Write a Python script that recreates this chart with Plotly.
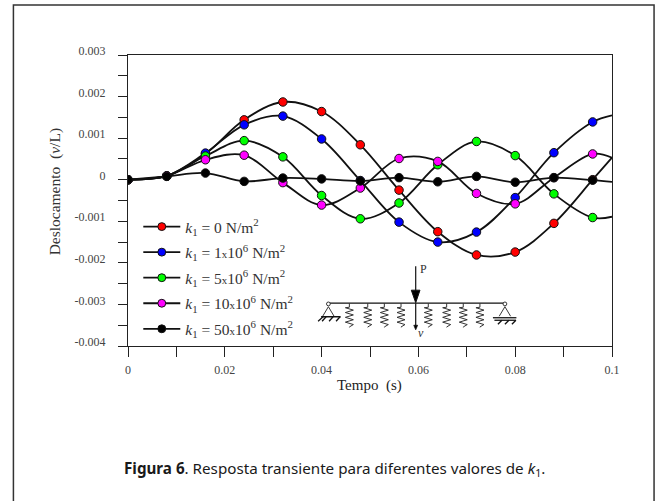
import plotly.graph_objects as go

tempo = [0, 0.008, 0.016, 0.024, 0.032, 0.04, 0.048, 0.056, 0.064, 0.072, 0.08, 0.088, 0.096, 0.1]
k0 = [0, 0.00009, 0.00062, 0.00144, 0.00187, 0.00164, 0.00084, -0.00025, -0.00125, -0.00181, -0.00174, -0.00105, 0.0, 0.00053]
k1 = [0, 0.00009, 0.00064, 0.00132, 0.00153, 0.00098, -0.00002, -0.00102, -0.0015, -0.00126, -0.00043, 0.00065, 0.00139, 0.00155]
k5 = [0, 0.00009, 0.00057, 0.00094, 0.00055, -0.00038, -0.00094, -0.00056, 0.00036, 0.00092, 0.00058, -0.00034, -0.00091, -0.00089]
k10 = [0, 0.00009, 0.00048, 0.00059, -0.00007, -0.00061, -0.0002, 0.00051, 0.00044, -0.00033, -0.00058, 0.00005, 0.00062, 0.00053]
k50 = [0, 0.00008, 0.00016, -0.00004, 0.00004, 0.00002, -0.00003, 0.00005, -0.00005, 0.00008, -0.00006, 0.00005, -0.00001, -0.00005]

names = [
    "<i>k</i><sub>1</sub> = 0 N/m<sup>2</sup>",
    "<i>k</i><sub>1</sub> = 1<span style='font-size:11px'>x</span>10<sup>6</sup> N/m<sup>2</sup>",
    "<i>k</i><sub>1</sub> = 5<span style='font-size:11px'>x</span>10<sup>6</sup> N/m<sup>2</sup>",
    "<i>k</i><sub>1</sub> = 10<span style='font-size:11px'>x</span>10<sup>6</sup> N/m<sup>2</sup>",
    "<i>k</i><sub>1</sub> = 50<span style='font-size:11px'>x</span>10<sup>6</sup> N/m<sup>2</sup>",
]
colors = ["#ff0000", "#0000ff", "#00ff00", "#ff00ff", "#000000"]
series = [k0, k1, k5, k10, k50]
xticks = [0, 0.02, 0.04, 0.06, 0.08, 0.1]
xticklabels = ["0", "0.02", "0.04", "0.06", "0.08", "0.1"]
yticks = [0.003, 0.002, 0.001, 0, -0.001, -0.002, -0.003, -0.004]
yticklabels = ["0.003", "0.002", "0.001", "0", "-0.001", "-0.002", "-0.003", "-0.004"]

W, H = 656, 501
L, R, T, B = 127.7, 612.2, 55.3, 345.7
SERIF = "Liberation Serif"
TICKC = "#444444"


def px(x):
    return (x - L) / (R - L)


def py(y):
    return (B - y) / (B - T)


def path(points, close=False):
    s = "M " + " L ".join(f"{px(a):.5f},{py(b):.5f}" for a, b in points)
    return s + (" Z" if close else "")


fig = go.Figure()
for name, color, vals in zip(names, colors, series):
    fig.add_trace(go.Scatter(
        x=tempo, y=vals, name=name, mode="lines+markers",
        legendgroup=name,
        line=dict(color="#111111", width=1.8, shape="spline", smoothing=1.0),
        marker=dict(color=color, size=[8.5] * (len(tempo) - 1) + [0], opacity=1,
                    line=dict(color="#111111", width=1)),
    ))

shapes = []


def line(points, width=1.0, fill=None, close=False, color="#111111"):
    shapes.append(dict(type="path", xref="paper", yref="paper", path=path(points, close),
                       line=dict(color=color, width=width),
                       fillcolor=fill if fill else "rgba(0,0,0,0)", layer="above"))


# page frame (open at the bottom)
line([(13, 503), (13, 5.5), (654.3, 5.5), (654.3, 503)], 1.5, color="#333333")

# beam
line([(328.3, 303), (505, 303)], 1.3)
# load arrow
line([(415.7, 266), (415.7, 295)], 1.2)
line([(411.3, 290), (420, 290), (415.7, 302.5)], 1, fill="#000000", close=True)
# displacement arrow
line([(415.7, 303), (415.7, 327)], 1.2)
line([(413.8, 325), (417.6, 325), (415.7, 329.5)], 0.8, fill="#000000", close=True)

# springs
for sx in [349.3, 367.7, 384.3, 401, 428.3, 446.7, 463.3, 480]:
    pts = [(sx, 303), (sx, 307)]
    y = 307.5
    side = -1
    for _ in range(8):
        pts.append((sx + side * 4, y))
        y += 2.4
        side = -side
    pts += [(sx, y), (sx, 327)]
    line(pts, 1.0, color="#333333")

# supports
for cx, base in [(328.3, 316), (505, 316)]:
    line([(cx, 306.5), (cx - 5.7, base)], 0.9, color="#222222")
    line([(cx, 306.5), (cx + 5.7, base)], 0.9, color="#222222")
    shapes.append(dict(type="circle", xref="paper", yref="paper", x0=px(cx - 1.9), x1=px(cx + 1.9),
                       y0=py(305.6), y1=py(301.8), line=dict(color="#222222", width=0.9),
                       fillcolor="white", layer="above"))
line([(321, 316.5), (340.5, 316.5)], 1.5)
for hx in [326, 333, 340]:
    line([(hx, 316.5), (hx - 4, 321)], 1.3)
line([(323, 316.5), (318, 321)], 1.3)
line([(493, 317.5), (516.5, 317.5)], 1.3)
line([(494.5, 320), (516, 320)], 1.3)
for hx in [502, 509, 516]:
    line([(hx, 320), (hx - 4, 324)], 1.3)

annotations = [
    dict(text="Deslocamento&nbsp;&nbsp;(<i>v</i>/L)", x=55.5, y=191.5, textangle=-90, size=15.5, color="#333333"),
    dict(text="Tempo&nbsp;&nbsp;(s)", x=369, y=385, size=15, color="#222222"),
    dict(text="P", x=424, y=269, size=12, color="#333333"),
    dict(text="<i>v</i>", x=421, y=332.5, size=12, color="#333333"),
]
anns = []
for a in annotations:
    anns.append(dict(text=a["text"], xref="paper", yref="paper", x=px(a["x"]), y=py(a["y"]),
                     xanchor="center", yanchor="middle", showarrow=False,
                     textangle=a.get("textangle", 0),
                     font=dict(family=SERIF, size=a["size"], color=a["color"])))
anns.append(dict(
    text="<b>Figura 6</b>. Resposta transiente para diferentes valores de <i>k</i><sub>1</sub>.",
    xref="paper", yref="paper", x=px(334), y=py(468), xanchor="center", yanchor="middle",
    showarrow=False, font=dict(family="Noto Sans", size=15.2, color="#1a1a1a")))

fig.update_layout(
    width=W, height=H, autosize=False,
    margin=dict(l=L, r=W - R, t=T, b=H - B),
    paper_bgcolor="white", plot_bgcolor="white",
    shapes=shapes, annotations=anns,
    showlegend=True,
    legend=dict(x=px(138), y=py(210), xanchor="left", yanchor="top",
                bgcolor="rgba(0,0,0,0)", borderwidth=0,
                traceorder="grouped", tracegroupgap=2.4, itemwidth=37,
                font=dict(family=SERIF, size=15.5, color="#333333")),
    xaxis=dict(range=[0, 0.1], tickvals=xticks, ticktext=xticklabels,
               ticks="outside", ticklen=10, tickwidth=1, tickcolor="#222222",
               minor=dict(tickvals=[0.01, 0.03, 0.05, 0.07, 0.09], ticks="outside", ticklen=10, tickwidth=1, tickcolor="#222222"),
               showline=True, linecolor="#222222", linewidth=1, mirror=True,
               showgrid=False, zeroline=False, ticklabelstandoff=3,
               tickfont=dict(family=SERIF, size=12, color=TICKC)),
    yaxis=dict(range=[-0.004, 0.003], tickvals=yticks, ticktext=yticklabels,
               ticks="outside", ticklen=9, tickwidth=1, tickcolor="#222222",
               minor=dict(dtick=0.0005, ticks="outside", ticklen=9, tickwidth=1, tickcolor="#222222"),
               showline=True, linecolor="#222222", linewidth=1, mirror=True,
               showgrid=False, zeroline=False, ticklabelstandoff=10, ticklabelshift=-4,
               tickfont=dict(family=SERIF, size=12, color=TICKC)),
)
fig.write_html("out.html", config={"displayModeBar": False},
               post_script="document.body.style.margin='0';document.documentElement.style.overflow='hidden';")
